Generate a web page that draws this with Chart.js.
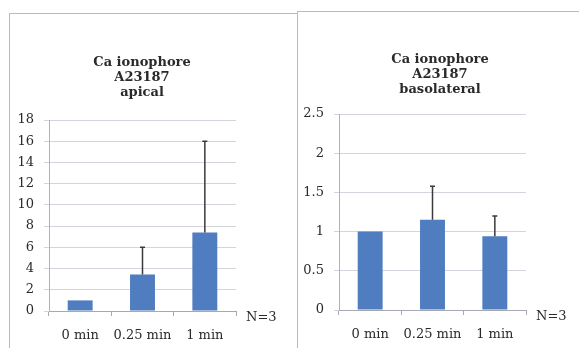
<!DOCTYPE html>
<html>
<head>
<meta charset="utf-8">
<script src="https://cdn.jsdelivr.net/npm/chart.js@4.4.1/dist/chart.umd.min.js"></script>
<style>
  html, body { margin: 0; padding: 0; background: #fff; }
  body { width: 579px; height: 348px; position: relative; overflow: hidden; }
  .frame { position: absolute; border: 1px solid #b9bac2; border-bottom: none; box-sizing: border-box; }
  .holder { position: absolute; }
</style>
</head>
<body>
<div class="frame" style="left:9px; top:13px; width:289px; height:340px;"></div>
<div class="frame" style="left:297px; top:11px; width:290px; height:340px;"></div>
<div class="holder" style="left:10px; top:14px; width:286px; height:334px;"><canvas id="apicalChart"></canvas></div>
<div class="holder" style="left:298px; top:12px; width:281px; height:336px;"><canvas id="basoChart"></canvas></div>

<script>
const categories = ['0 min', '0.25 min', '1 min'];

const apicalMeans = [1.0, 3.45, 7.4];
const apicalSD = [0, 2.55, 8.6];
const apicalTicks = [0, 2, 4, 6, 8, 10, 12, 14, 16, 18];
const apicalTitle = ['Ca ionophore', 'A23187', 'apical'];

const basoMeans = [1.0, 1.15, 0.94];
const basoSD = [0, 0.43, 0.26];
const basoTicks = [0, 0.5, 1, 1.5, 2, 2.5];
const basoTitle = ['Ca ionophore', 'A23187', 'basolateral'];

const nLabel = 'N=3';

const FONT = '"DejaVu Serif", "Liberation Serif", serif';

// upper error whiskers + title + N label
const extrasPlugin = {
  id: 'extras',
  afterDatasetsDraw: function(chart, args, opts) {
    const ctx = chart.ctx;
    const yScale = chart.scales.y;
    const meta = chart.getDatasetMeta(0);
    const means = chart.data.datasets[0].data;

    ctx.save();
    ctx.strokeStyle = '#3a3a3a';
    ctx.lineWidth = 1.5;
    meta.data.forEach(function(bar, i) {
      const sd = opts.sd[i];
      if (!sd) return;
      const yTop = yScale.getPixelForValue(means[i] + sd);
      ctx.beginPath();
      ctx.moveTo(bar.x, bar.y);
      ctx.lineTo(bar.x, yTop);
      ctx.moveTo(bar.x - 2.5, yTop);
      ctx.lineTo(bar.x + 2.5, yTop);
      ctx.stroke();
    });

    const area = chart.chartArea;
    ctx.fillStyle = '#2a2a2a';
    ctx.textAlign = 'center';
    ctx.textBaseline = 'middle';
    ctx.font = 'bold 13px ' + FONT;
    opts.title.forEach(function(line, i) {
      ctx.fillText(line, opts.titleX, opts.titleY + i * 15);
    });

    ctx.font = '13px ' + FONT;
    ctx.textAlign = 'left';
    ctx.fillText(nLabel, area.right + 10, area.bottom + 7);
    ctx.restore();
  }
};

function makeChart(canvasId, means, sd, ticks, title, pad, yWidth, xHeight, titleX, titleY) {
  const ctx = document.getElementById(canvasId).getContext('2d');
  return new Chart(ctx, {
    type: 'bar',
    data: {
      labels: categories,
      datasets: [{
        data: means,
        backgroundColor: '#4f7dbf',
        borderWidth: 0,
        categoryPercentage: 1.0,
        barPercentage: 0.4
      }]
    },
    options: {
      responsive: true,
      maintainAspectRatio: false,
      animation: false,
      layout: { padding: pad },
      plugins: {
        legend: { display: false },
        title: { display: false },
        tooltip: { enabled: false },
        extras: { sd: sd, title: title, titleX: titleX, titleY: titleY }
      },
      scales: {
        x: {
          afterFit: function(scale) { scale.height = xHeight; },
          grid: { drawOnChartArea: false, tickLength: 5, color: '#a8a8b0' },
          border: { color: '#a8a8b0' },
          ticks: {
            color: '#2a2a2a',
            font: { family: FONT, size: 13 },
            padding: 12,
            maxRotation: 0,
            minRotation: 0,
            autoSkip: false
          }
        },
        y: {
          min: ticks[0],
          max: ticks[ticks.length - 1],
          afterFit: function(scale) { scale.width = yWidth; },
          afterBuildTicks: function(scale) {
            scale.ticks = ticks.map(function(v) { return { value: v }; });
          },
          grid: { color: '#d4d5dc', tickLength: 5 },
          border: { color: '#b0b0b8' },
          ticks: {
            color: '#2a2a2a',
            font: { family: FONT, size: 13 },
            padding: 10,
            callback: function(value) { return String(value); }
          }
        }
      }
    },
    plugins: [extrasPlugin]
  });
}

makeChart('apicalChart', apicalMeans, apicalSD, apicalTicks, apicalTitle,
  { top: 106, right: 60, left: 0, bottom: 0 }, 39, 37, 132, 49);
makeChart('basoChart', basoMeans, basoSD, basoTicks, basoTitle,
  { top: 102, right: 53, left: 0, bottom: 0 }, 41, 38, 142, 48);
</script>
</body>
</html>
